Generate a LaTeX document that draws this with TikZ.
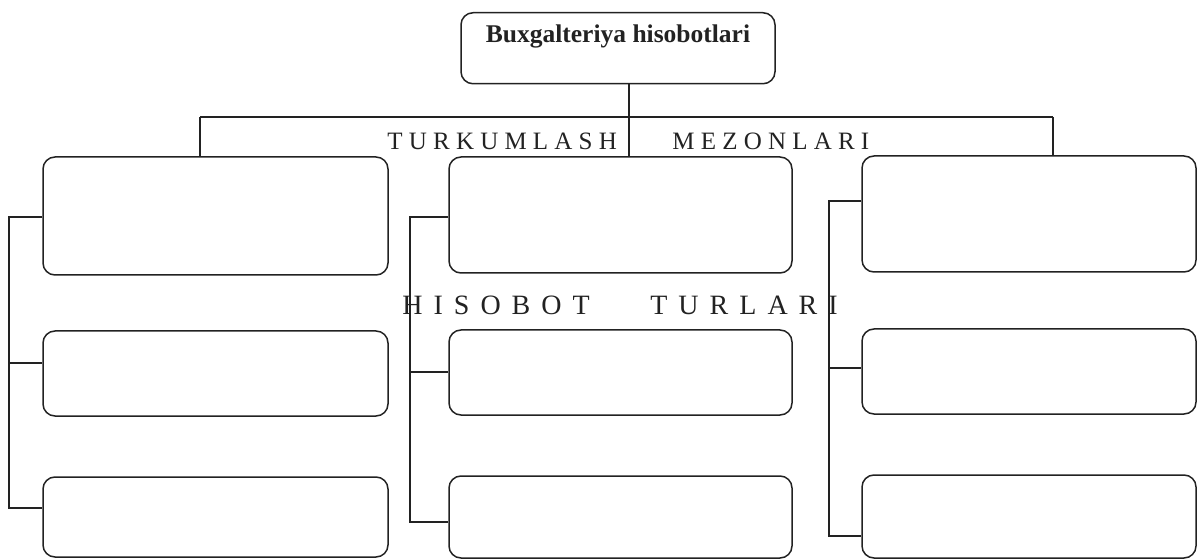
\documentclass[tikz,border=0pt]{standalone}
\usepackage{fontspec}
\setmainfont{Liberation Serif}
\makeatletter
\newcommand\spacedword[2]{\let\sw@first\relax\@tfor\sw@c:=#2\do{\ifx\sw@first\relax\let\sw@first\empty\else\kern#1\fi\sw@c}}
\makeatother
\definecolor{ink}{HTML}{222222}
\tikzset{
  box/.style={draw=ink, rounded corners=6pt, line width=0.75pt, inner sep=0pt},
  conn/.style={draw=ink, line width=0.75pt},
  lbl/.style={inner sep=0pt, anchor=base west, text=ink},
}
\begin{document}
\begin{tikzpicture}[x=0.5pt,y=-0.5pt]
\useasboundingbox (0,0) rectangle (1197,560);
% top box
\node[box, minimum width=157pt, inner ysep=0pt, text height=15pt, text depth=20.5pt, anchor=north, text=ink,
      font=\fontsize{12.75}{15}\selectfont\bfseries] (top) at (618,12) {Buxgalteriya hisobotlari};
% left column
\node[box, minimum width=172.5pt, minimum height=59pt] (L1) at (215.5,216) {};
\node[box, minimum width=172.5pt, minimum height=42.5pt] (L2) at (215.5,373.5) {};
\node[box, minimum width=172.5pt, minimum height=40pt] (L3) at (215.5,517) {};
% middle column
\node[box, minimum width=171.5pt, minimum height=58pt] (M1) at (620.5,215) {};
\node[box, minimum width=171.5pt, minimum height=42.5pt] (M2) at (620.5,372.5) {};
\node[box, minimum width=171.5pt, minimum height=41pt] (M3) at (620.5,517) {};
% right column
\node[box, minimum width=167pt, minimum height=58pt] (R1) at (1029,214) {};
\node[box, minimum width=167pt, minimum height=42.5pt] (R2) at (1029,371.5) {};
\node[box, minimum width=167pt, minimum height=41.5pt] (R3) at (1029,516.5) {};
% labels
\node[lbl, font=\fontsize{12.5}{14}\selectfont] (t1) at (387,150) {\spacedword{3.1pt}{TURKUMLASH}};
\node[lbl, font=\fontsize{12.5}{14}\selectfont] (t2) at (672,150) {\spacedword{3.1pt}{MEZONLARI}};
\node[lbl, font=\fontsize{14}{16}\selectfont] (h1) at (402,315) {\spacedword{5.5pt}{HISOBOT}};
\node[lbl, font=\fontsize{14}{16}\selectfont] (h2) at (650,315) {\spacedword{5.5pt}{TURLARI}};
% tree connectors
\coordinate (j) at (629,117);
\coordinate (jl) at (200,117);
\coordinate (jr) at (1053,117);
\draw[conn] (top.south -| j) -- (M1.north -| j);
\draw[conn] (jl) -- (jr);
\draw[conn] (jl) -- (L1.north -| jl);
\draw[conn] (jr) -- (R1.north -| jr);
% left spine
\coordinate (la) at (9,217);
\coordinate (lb) at (9,363);
\coordinate (lc) at (9,508);
\draw[conn] (L1.west |- la) -- (la) -- (lc) -- (L3.west |- lc);
\draw[conn] (lb) -- (L2.west |- lb);
% middle spine
\coordinate (ma) at (410,217);
\coordinate (mb) at (410,372);
\coordinate (mc) at (410,522);
\draw[conn] (M1.west |- ma) -- (ma) -- (mc) -- (M3.west |- mc);
\draw[conn] (mb) -- (M2.west |- mb);
% right spine
\coordinate (ra) at (829,201);
\coordinate (rb) at (829,368);
\coordinate (rc) at (829,536);
\draw[conn] (R1.west |- ra) -- (ra) -- (rc) -- (R3.west |- rc);
\draw[conn] (rb) -- (R2.west |- rb);
\end{tikzpicture}
\end{document}
